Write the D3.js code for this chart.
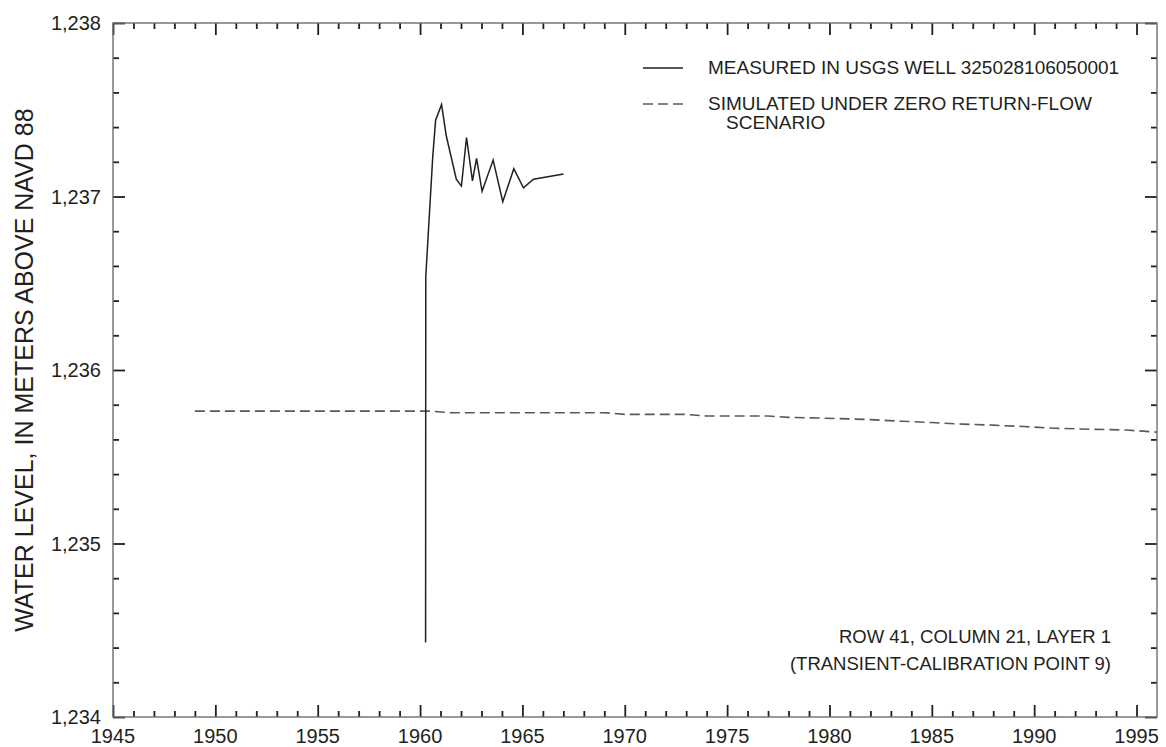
<!DOCTYPE html>
<html>
<head>
<meta charset="utf-8">
<script src="https://cdn.jsdelivr.net/npm/d3@7"></script>
<style>
  body { margin: 0; background: #fff; }
  text { font-family: "Liberation Sans", Arial, sans-serif; fill: #231f20; }
</style>
</head>
<body>
<script>
// measured water level in the well (decimal year, meters)
var measuredYears = [1960.27, 1960.28, 1960.62, 1960.76, 1961.05, 1961.28, 1961.77, 1962.02, 1962.27,
	1962.56, 1962.76, 1963.03, 1963.57, 1964.04, 1964.58, 1965.05, 1965.54, 1967.01];
var measuredLevels = [1234.43, 1236.54, 1237.23, 1237.44, 1237.53, 1237.35, 1237.10, 1237.06, 1237.34,
	1237.09, 1237.22, 1237.03, 1237.21, 1236.97, 1237.16, 1237.05, 1237.10, 1237.13];

// simulated zero return-flow scenario
var simulatedYears = [1949.0, 1960.5, 1961.5, 1969.0, 1970.0, 1973.0, 1974.0, 1977.0, 1978.0, 1979.5,
	1981.0, 1982.0, 1983.5, 1985.0, 1986.5, 1988.0, 1989.5, 1991.0, 1993.0, 1994.5, 1996.0];
var simulatedLevels = [1235.763, 1235.763, 1235.754, 1235.754, 1235.744, 1235.744, 1235.735, 1235.735,
	1235.727, 1235.723, 1235.718, 1235.714, 1235.705, 1235.697, 1235.688, 1235.682, 1235.674,
	1235.664, 1235.658, 1235.654, 1235.642];

// axis ticks
var xTickLabels = [1945, 1950, 1955, 1960, 1965, 1970, 1975, 1980, 1985, 1990, 1995];
var yTickLabels = [1234, 1235, 1236, 1237, 1238];

var width = 1166,
	height = 747;

// plot box (note: "top" is taken by window.top)
var plotLeft = 113, plotRight = 1157, plotTop = 23, plotBottom = 717;

var x = d3.scaleLinear()
	.domain([1945, 1996])
	.range([plotLeft, plotRight]);

var y = d3.scaleLinear()
	.domain([1234, 1238])
	.range([plotBottom, plotTop]);

var svg = d3.select('body')
	.append('svg')
	.attr('width', width)
	.attr('height', height);

// minor ticks every year / every 0.2 m, major ticks on labelled values
var xMinor = d3.range(1946, 1996, 1).filter(function(d) { return d % 5 != 0; });
var yMinor = d3.range(1234.2, 1238, 0.2).filter(function(d) { return Math.abs(d - Math.round(d)) > 0.01; });

function tickAxis(axis, size) {
	return axis.tickSizeInner(size).tickSizeOuter(0).tickFormat('');
}

// all four sides get inward ticks
var sides = [
	{ a: d3.axisTop, s: x, t: 'translate(0,' + plotBottom + ')' },
	{ a: d3.axisBottom, s: x, t: 'translate(0,' + plotTop + ')' },
	{ a: d3.axisRight, s: y, t: 'translate(' + plotLeft + ',0)' },
	{ a: d3.axisLeft, s: y, t: 'translate(' + plotRight + ',0)' }
];

sides.forEach(function(side) {
	var isX = side.s === x;
	var g = svg.append('g').attr('transform', side.t);
	g.call(tickAxis(side.a(side.s).tickValues(isX ? xMinor : yMinor), 6));
	g.select('.domain').remove();
	var g2 = svg.append('g').attr('transform', side.t);
	g2.call(tickAxis(side.a(side.s).tickValues(isX ? xTickLabels : yTickLabels), 12));
	g2.select('.domain').remove();
});

svg.selectAll('.tick line')
	.attr('stroke', '#231f20')
	.attr('stroke-width', 1.8);

// frame
svg.append('rect')
	.attr('x', plotLeft)
	.attr('y', plotTop)
	.attr('width', plotRight - plotLeft)
	.attr('height', plotBottom - plotTop)
	.attr('fill', 'none')
	.attr('stroke', '#6d6e71')
	.attr('stroke-width', 1.4);

// tick labels
svg.append('g')
	.selectAll('text')
	.data(xTickLabels)
	.enter().append('text')
	.attr('x', function(d) { return x(d); })
	.attr('y', 743)
	.attr('text-anchor', 'middle')
	.style('font-size', '20px')
	.text(function(d) { return d; });

svg.append('g')
	.selectAll('text')
	.data(yTickLabels)
	.enter().append('text')
	.attr('x', 101)
	.attr('y', function(d) { return y(d) + 7; })
	.attr('text-anchor', 'end')
	.style('font-size', '20px')
	.text(function(d) { return d3.format(',')(d); });

// axis title
svg.append('text')
	.attr('transform', 'translate(33,370) rotate(-90)')
	.attr('text-anchor', 'middle')
	.style('font-size', '25px')
	.text('WATER LEVEL, IN METERS ABOVE NAVD 88');

var line = d3.line()
	.x(function(d) { return x(d[0]); })
	.y(function(d) { return y(d[1]); });

var simulated = d3.zip(simulatedYears, simulatedLevels);
var measured = d3.zip(measuredYears, measuredLevels);

svg.append('path')
	.attr('d', line(simulated))
	.attr('fill', 'none')
	.attr('stroke', '#58595b')
	.attr('stroke-width', 1.6)
	.attr('stroke-dasharray', '10,5');

svg.append('path')
	.attr('d', line(measured))
	.attr('fill', 'none')
	.attr('stroke', '#231f20')
	.attr('stroke-width', 1.5);

// legend
svg.append('line')
	.attr('x1', 643).attr('x2', 683)
	.attr('y1', 68).attr('y2', 68)
	.attr('stroke', '#231f20')
	.attr('stroke-width', 1.5);

svg.append('line')
	.attr('x1', 643).attr('x2', 683)
	.attr('y1', 104).attr('y2', 104)
	.attr('stroke', '#58595b')
	.attr('stroke-width', 1.6)
	.attr('stroke-dasharray', '10,5');

var legendText = [
	['MEASURED IN USGS WELL 325028106050001', 708, 74],
	['SIMULATED UNDER ZERO RETURN-FLOW', 708, 110],
	['SCENARIO', 726, 129]
];

svg.append('g')
	.selectAll('text')
	.data(legendText)
	.enter().append('text')
	.attr('x', function(d) { return d[1]; })
	.attr('y', function(d) { return d[2]; })
	.style('font-size', '19px')
	.text(function(d) { return d[0]; });

// location note
var note = ['ROW 41, COLUMN 21, LAYER 1', '(TRANSIENT-CALIBRATION POINT 9)'];

svg.append('g')
	.selectAll('text')
	.data(note)
	.enter().append('text')
	.attr('x', 1111)
	.attr('y', function(d, i) { return 643 + i * 27; })
	.attr('text-anchor', 'end')
	.style('font-size', '18.5px')
	.text(function(d) { return d; });
</script>
</body>
</html>
